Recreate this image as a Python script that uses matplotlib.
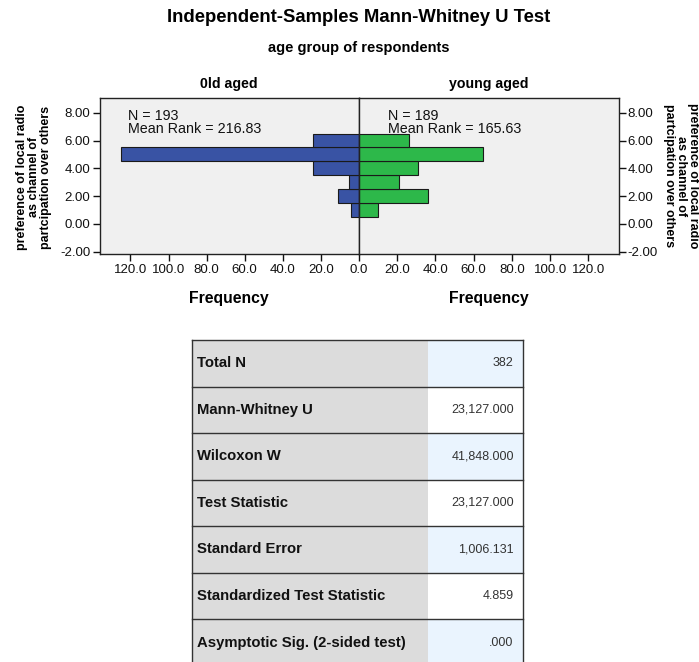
import matplotlib.pyplot as plt
from matplotlib.patches import Rectangle

plt.rcParams['font.family'] = ['Liberation Sans', 'DejaVu Sans']

# preference score (bin centres) and frequency per age group
scores = [1, 2, 3, 4, 5, 6]
old_counts = [4, 11, 5, 24, 125, 24]
young_counts = [10, 36, 21, 31, 65, 26]

groups = ['0ld aged', 'young aged']
group_n = [193, 189]
mean_ranks = [216.83, 165.63]

y_ticks = [-2, 0, 2, 4, 6, 8]
x_ticks = [0, 20, 40, 60, 80, 100, 120]

stat_names = ['Total N', 'Mann-Whitney U', 'Wilcoxon W', 'Test Statistic',
              'Standard Error', 'Standardized Test Statistic',
              'Asymptotic Sig. (2-sided test)']
stat_values = ['382', '23,127.000', '41,848.000', '23,127.000',
               '1,006.131', '4.859', '.000']

ylabel = 'preference of local radio\nas channel of\npartcipation over others'

W, H = 699, 662
fig = plt.figure(figsize=(W / 100, H / 100), dpi=100)


def px_box(x0, y0, x1, y1):
    return [x0 / W, 1 - y1 / H, (x1 - x0) / W, (y1 - y0) / H]


ax_l = fig.add_axes(px_box(100, 98, 359, 254))
ax_r = fig.add_axes(px_box(359, 98, 619, 254))

ax_l.barh(scores, old_counts, height=1.0, color='#3953a4', edgecolor='#1a1a1a', linewidth=0.8)
ax_r.barh(scores, young_counts, height=1.0, color='#2db84a', edgecolor='#1a1a1a', linewidth=0.8)

ax_l.set_xlim(136, 0)
ax_r.set_xlim(0, 136)
for ax in (ax_l, ax_r):
    ax.set_facecolor('#f0f0f0')
    ax.set_ylim(-2.17, 9.06)
    ax.set_yticks(y_ticks)
    ax.set_yticklabels(['%.2f' % v for v in y_ticks])
    ax.tick_params(direction='out', length=5, width=1, labelsize=9.5, pad=2, colors='#111111')
    for s in ax.spines.values():
        s.set_color('#222222')
        s.set_linewidth(1.0)

ax_l.set_xticks(x_ticks[1:])
ax_l.set_xticklabels(['%.1f' % v for v in x_ticks[1:]])
ax_r.set_xticks(x_ticks)
ax_r.set_xticklabels(['%.1f' % v for v in x_ticks])
ax_r.yaxis.tick_right()
ax_r.tick_params(axis='y', pad=1)

for ax, n, mr, x0 in zip((ax_l, ax_r), group_n, mean_ranks, (0.108, 0.112)):
    ax.text(x0, 0.93, 'N = %d\nMean Rank = %.2f' % (n, mr), transform=ax.transAxes,
            ha='left', va='top', fontsize=10.3, linespacing=0.9, color='#111111')

# titles and headers
fig.text(359 / W, 1 - 18 / H, 'Independent-Samples Mann-Whitney U Test',
         ha='center', va='center', fontsize=13.3, fontweight='bold')
fig.text(359 / W, 1 - 48 / H, 'age group of respondents',
         ha='center', va='center', fontsize=10.5, fontweight='bold')
fig.text(229 / W, 1 - 84 / H, groups[0], ha='center', va='center', fontsize=10.2, fontweight='bold')
fig.text(489 / W, 1 - 84 / H, groups[1], ha='center', va='center', fontsize=10.2, fontweight='bold')
fig.text(229 / W, 1 - 298 / H, 'Frequency', ha='center', va='center', fontsize=11.3, fontweight='bold')
fig.text(489 / W, 1 - 298 / H, 'Frequency', ha='center', va='center', fontsize=11.3, fontweight='bold')

fig.text(34 / W, 1 - 177 / H, ylabel, rotation=90, ha='center', va='center',
         multialignment='center', fontsize=9, fontweight='bold', linespacing=1.05)
fig.text(681 / W, 1 - 176 / H, ylabel, rotation=-90, ha='center', va='center',
         multialignment='center', fontsize=9, fontweight='bold', linespacing=1.05)

# statistics table, drawn in pixel coordinates
ax_t = fig.add_axes([0, 0, 1, 1], zorder=-1)
ax_t.set_xlim(0, W)
ax_t.set_ylim(H, 0)
ax_t.axis('off')

tx0, tsplit, tx1, ty0, row_h = 192, 427.7, 522.7, 340, 46.55
for i, (name, val) in enumerate(zip(stat_names, stat_values)):
    y0 = ty0 + i * row_h
    h = row_h if i < len(stat_names) - 1 else H - y0 + 5
    ax_t.add_patch(Rectangle((tx0, y0), tsplit - tx0, h, facecolor='#dcdcdc', edgecolor='none'))
    ax_t.add_patch(Rectangle((tsplit, y0), tx1 - tsplit, h,
                             facecolor='#eaf4fe' if i % 2 == 0 else 'white', edgecolor='none'))
    ax_t.plot([tx0, tx1], [y0, y0], color='#333333', lw=1.0)
    ax_t.text(tx0 + 5, y0 + row_h / 2, name, ha='left', va='center', fontsize=10.7, fontweight='bold', color='#111111')
    ax_t.text(tx1 - 9, y0 + row_h / 2, val, ha='right', va='center', fontsize=9, color='#333333')
ax_t.plot([tx0, tx0], [ty0, H + 5], color='#333333', lw=1.0)
ax_t.plot([tx1, tx1], [ty0, H + 5], color='#333333', lw=1.0)

fig.savefig('out.png', dpi=100)
